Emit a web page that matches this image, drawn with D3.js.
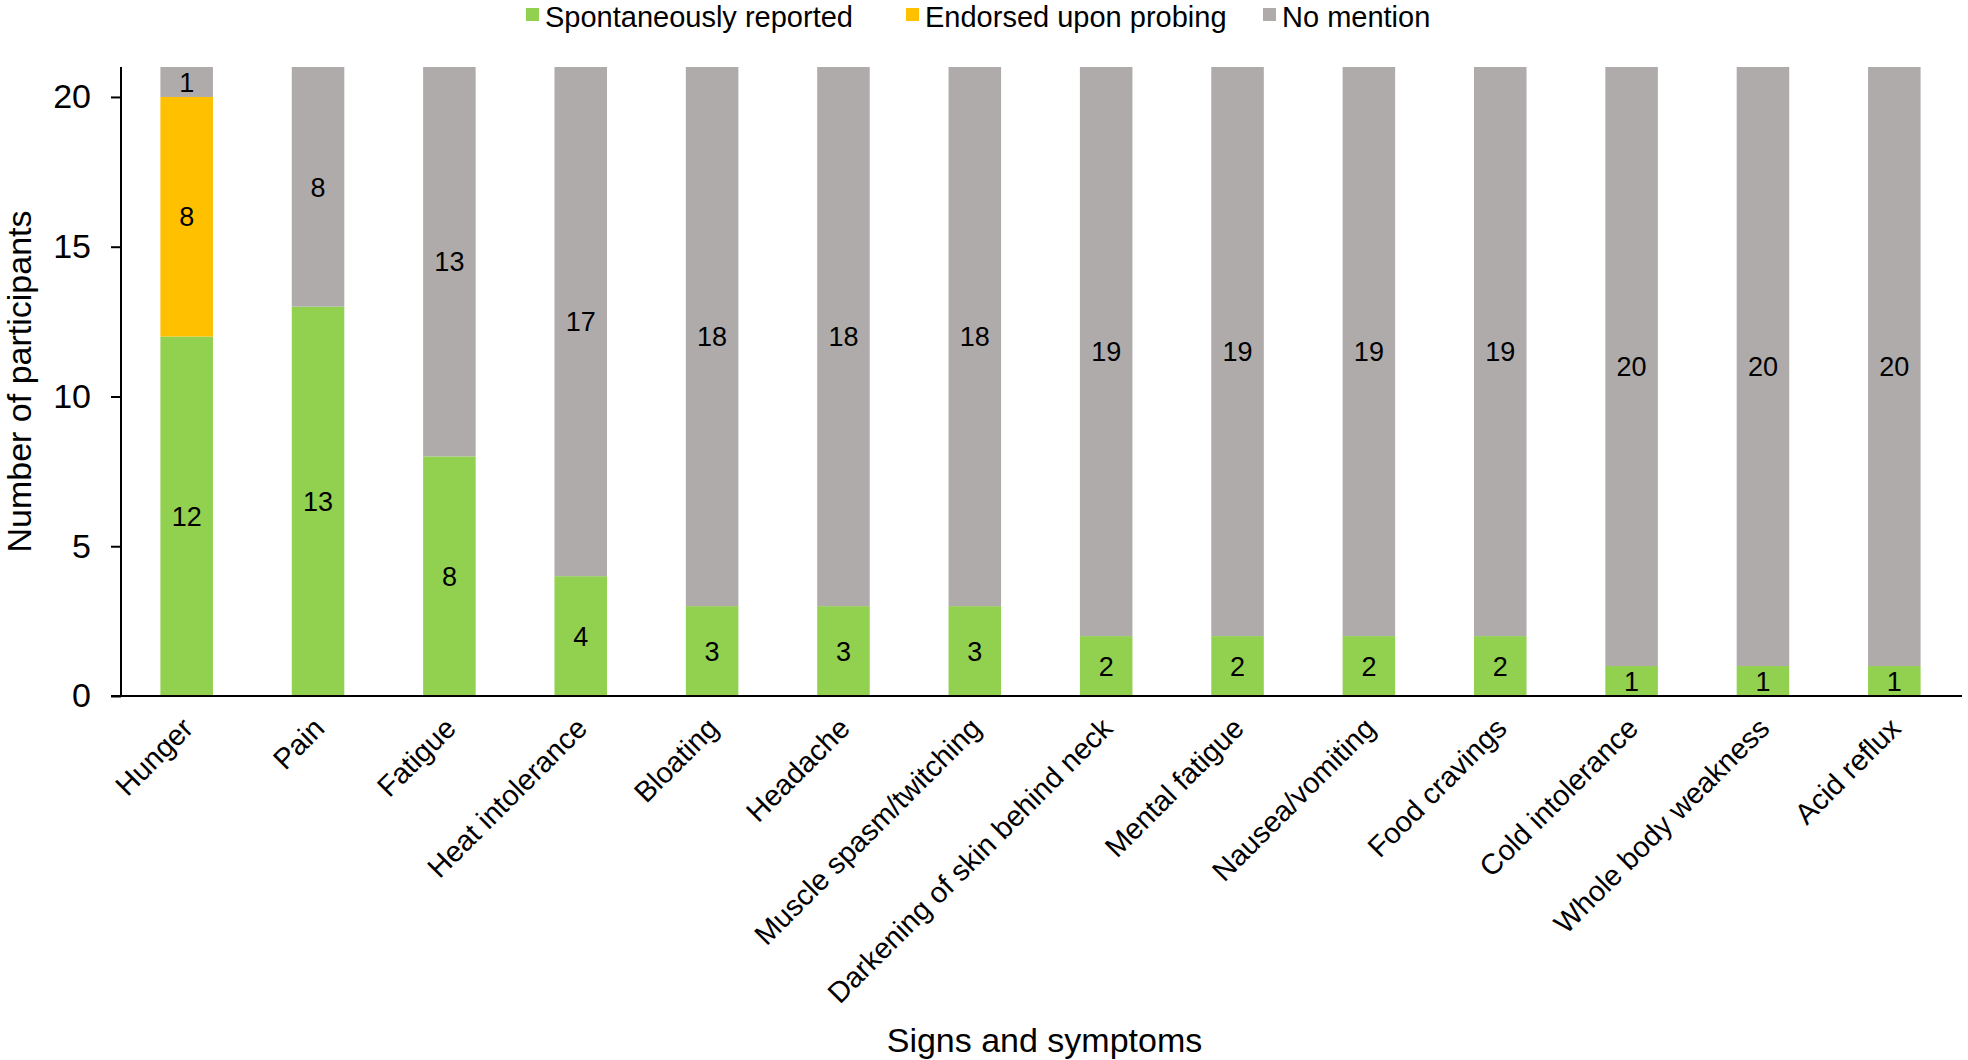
<!DOCTYPE html>
<html>
<head>
<meta charset="utf-8">
<script src="https://cdn.jsdelivr.net/npm/d3@7"></script>
<style>
  html, body { margin: 0; padding: 0; background: #fff; }
  svg { display: block; font-family: "Liberation Sans", Arial, sans-serif; }
</style>
</head>
<body>
<svg id="chart" width="1968" height="1060"></svg>
<script>
const categories = ["Hunger", "Pain", "Fatigue", "Heat intolerance", "Bloating", "Headache",
  "Muscle spasm/twitching", "Darkening of skin behind neck", "Mental fatigue", "Nausea/vomiting",
  "Food cravings", "Cold intolerance", "Whole body weakness", "Acid reflux"];
const spontaneous = [12, 13, 8, 4, 3, 3, 3, 2, 2, 2, 2, 1, 1, 1];
const probed      = [8, 0, 0, 0, 0, 0, 0, 0, 0, 0, 0, 0, 0, 0];
const noMention   = [1, 8, 13, 17, 18, 18, 18, 19, 19, 19, 19, 20, 20, 20];
const seriesNames = ["Spontaneously reported", "Endorsed upon probing", "No mention"];
const seriesColors = ["#92D050", "#FFC000", "#AFABAB"];
const yTicks = [0, 5, 10, 15, 20];
const xTitle = "Signs and symptoms";
const yTitle = "Number of participants";

const svg = d3.select("#chart");
const margin = { left: 121, right: 8, top: 67, bottom: 364 };
const W = 1968, H = 1060;
const x0 = margin.left, x1 = W - margin.right;
const yBase = H - margin.bottom; // 696

const x = d3.scaleBand().domain(categories).range([x0, x1]).paddingInner(0.6).paddingOuter(0.3);
const y = d3.scaleLinear().domain([0, 21]).range([yBase, margin.top]);

const rows = categories.map((c, i) => ({ cat: c, s0: spontaneous[i], s1: probed[i], s2: noMention[i] }));
const stack = d3.stack().keys(["s0", "s1", "s2"])(rows);

const layers = svg.append("g").selectAll("g").data(stack).join("g")
  .attr("fill", (d, i) => seriesColors[i]);

layers.selectAll("rect").data(d => d.filter(p => p[1] - p[0] > 0)).join("rect")
  .attr("x", d => x(d.data.cat))
  .attr("width", x.bandwidth())
  .attr("y", d => y(d[1]))
  .attr("height", d => y(d[0]) - y(d[1]));

// data labels
const lbl = svg.append("g").attr("font-size", 27).attr("fill", "#000").attr("text-anchor", "middle");
stack.forEach(layer => {
  layer.filter(p => p[1] - p[0] > 0).forEach(p => {
    lbl.append("text")
      .attr("x", x(p.data.cat) + x.bandwidth() / 2)
      .attr("y", y((p[0] + p[1]) / 2))
      .attr("dy", "0.36em")
      .text(p[1] - p[0]);
  });
});

// y axis
const yAxis = svg.append("g").attr("transform", `translate(${x0},0)`)
  .call(d3.axisLeft(y).tickValues(yTicks).tickSize(10).tickPadding(20).tickSizeOuter(0));
yAxis.select(".domain").attr("stroke", "#000").attr("stroke-width", 2)
  .attr("d", `M0,${y(21)}V${yBase}`);
yAxis.selectAll(".tick line").attr("stroke", "#000").attr("stroke-width", 2);
yAxis.selectAll(".tick text").attr("font-size", 34).attr("fill", "#000")
  .attr("font-family", "Liberation Sans, Arial, sans-serif");

// x axis
const xAxis = svg.append("g").attr("transform", `translate(0,${yBase})`)
  .call(d3.axisBottom(x).tickSize(0).tickSizeOuter(0).tickFormat(""));
xAxis.select(".domain").attr("stroke", "#000").attr("stroke-width", 2)
  .attr("d", `M${x0 - 10},0H${W - 6}`);

const catG = svg.append("g").attr("font-size", 29).attr("fill", "#000");
categories.forEach(c => {
  catG.append("text")
    .attr("transform", `translate(${x(c) + x.bandwidth() / 2 + 1},${yBase + 27}) rotate(-45)`)
    .attr("text-anchor", "end")
    .attr("dy", "0.35em")
    .text(c);
});

// axis titles
svg.append("text").attr("x", (x0 + W) / 2).attr("y", 1052)
  .attr("text-anchor", "middle").attr("font-size", 34).attr("fill", "#000").text(xTitle);
svg.append("text").attr("transform", `translate(31,${(y(21) + yBase) / 2}) rotate(-90)`)
  .attr("text-anchor", "middle").attr("font-size", 34).attr("fill", "#000").text(yTitle);

// legend
const legendX = [526, 906, 1263];
const leg = svg.append("g");
seriesNames.forEach((n, i) => {
  leg.append("rect").attr("x", legendX[i]).attr("y", 8).attr("width", 13).attr("height", 13)
    .attr("fill", seriesColors[i]);
  leg.append("text").attr("x", legendX[i] + 19).attr("y", 27).attr("font-size", 29)
    .attr("fill", "#000").text(n);
});
</script>
</body>
</html>
